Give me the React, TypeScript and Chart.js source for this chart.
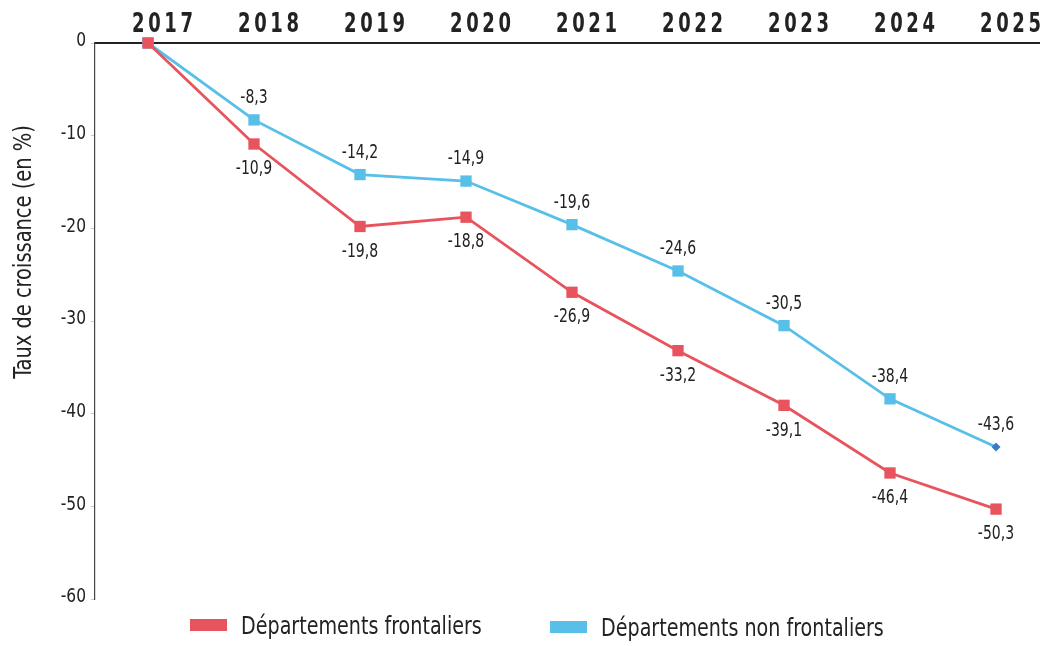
import React, { useEffect, useRef } from "react";
import { Chart, registerables } from "chart.js";

Chart.register(...registerables);

const years = [2017, 2018, 2019, 2020, 2021, 2022, 2023, 2024, 2025];
const frontaliers = [0, -10.9, -19.8, -18.8, -26.9, -33.2, -39.1, -46.4, -50.3];
const nonFrontaliers = [0, -8.3, -14.2, -14.9, -19.6, -24.6, -30.5, -38.4, -43.6];
const seriesLabels = ["Départements frontaliers", "Départements non frontaliers"];
const yTitle = "Taux de croissance (en %)";
const yTicks = [0, -10, -20, -30, -40, -50, -60];
const yMin = -60;
const yMax = 0;
const yStep = 10;

const FONT = "'DejaVu Sans Condensed', 'DejaVu Sans', sans-serif";
const RED = "#e8545d";
const BLUE = "#58c0e8";
const DIAMOND = "#3f78c4";
const TEXT = "#222222";

const fmt = (v: number) => v.toFixed(1).replace(".", ",");

// draws horizontally-condensed text
function drawText(
  ctx: CanvasRenderingContext2D,
  text: string,
  x: number,
  y: number,
  align: "left" | "center" | "right",
  sx: number,
  spacing = 0
) {
  const chars = text.split("");
  const widths = chars.map((c) => ctx.measureText(c).width);
  const total =
    spacing === 0
      ? ctx.measureText(text).width
      : widths.reduce((a, b) => a + b, 0) + spacing * (chars.length - 1);
  let start = 0;
  if (align === "center") start = -total / 2;
  else if (align === "right") start = -total;
  ctx.save();
  ctx.translate(x, y);
  ctx.scale(sx, 1);
  ctx.textAlign = "left";
  if (spacing === 0) {
    ctx.fillText(text, start, 0);
  } else {
    let cx = start;
    chars.forEach((c, i) => {
      ctx.fillText(c, cx, 0);
      cx += widths[i] + spacing;
    });
  }
  ctx.restore();
}

const customDraw = {
  id: "customDraw",
  afterDraw(chart: any) {
    const ctx = chart.ctx as CanvasRenderingContext2D;
    const xs = chart.scales.x;
    const ys = chart.scales.y;
    ctx.save();
    ctx.fillStyle = TEXT;

    // top year labels
    ctx.font = `bold 27px ${FONT}`;
    ctx.textBaseline = "alphabetic";
    years.forEach((yr) => {
      drawText(ctx, String(yr), xs.getPixelForValue(yr) + 14.5, 32, "center", 0.74, 5);
    });

    // y tick labels
    ctx.font = `20px ${FONT}`;
    ctx.textBaseline = "middle";
    yTicks.forEach((v) => {
      drawText(ctx, String(v), 86, ys.getPixelForValue(v) - 2, "right", 0.86);
    });

    // data labels
    ctx.font = `20px ${FONT}`;
    ctx.textBaseline = "middle";
    chart.data.datasets.forEach((ds: any, di: number) => {
      const meta = chart.getDatasetMeta(di);
      ds.data.forEach((d: any, i: number) => {
        if (i === 0) return;
        const el = meta.data[i];
        const dy = di === 0 ? 25 : -22;
        drawText(ctx, fmt(d.y), el.x, el.y + dy, "center", 0.78);
      });
    });

    // y title
    ctx.save();
    ctx.translate(25, 252);
    ctx.rotate(-Math.PI / 2);
    ctx.font = `24px ${FONT}`;
    ctx.textBaseline = "middle";
    drawText(ctx, yTitle, 0, 0, "center", 0.9);
    ctx.restore();

    // legend
    const legendItems = [
      { x: 190, y: 619, color: RED },
      { x: 550, y: 621, color: BLUE },
    ];
    ctx.font = `25px ${FONT}`;
    ctx.textBaseline = "middle";
    chart.data.datasets.forEach((ds: any, di: number) => {
      const it = legendItems[di];
      ctx.fillStyle = it.color;
      ctx.fillRect(it.x, it.y, 37, 12);
      ctx.fillStyle = TEXT;
      drawText(ctx, ds.label, it.x + 51, it.y + 8, "left", 0.85);
    });
    ctx.restore();
  },
};

export default function App() {
  const ref = useRef<HTMLCanvasElement>(null);
  useEffect(() => {
    if (!ref.current) return;
    const n = years.length;
    const chart = new Chart(ref.current, {
      type: "line",
      data: {
        datasets: [
          {
            label: seriesLabels[0],
            data: years.map((x, i) => ({ x, y: frontaliers[i] })),
            borderColor: RED,
            backgroundColor: RED,
            borderWidth: 2.8,
            pointStyle: "rect",
            pointRadius: 8,
            pointBackgroundColor: RED,
            pointBorderWidth: 0,
            tension: 0,
            clip: false,
          },
          {
            label: seriesLabels[1],
            data: years.map((x, i) => ({ x, y: nonFrontaliers[i] })),
            borderColor: BLUE,
            backgroundColor: BLUE,
            borderWidth: 2.8,
            pointStyle: years.map((_, i) => (i === n - 1 ? "rectRot" : "rect")),
            pointRadius: years.map((_, i) => (i === n - 1 ? 4.5 : 8)),
            pointBackgroundColor: years.map((_, i) => (i === n - 1 ? DIAMOND : BLUE)),
            pointBorderWidth: 0,
            tension: 0,
            clip: false,
          },
        ],
      },
      options: {
        responsive: false,
        animation: false,
        layout: { autoPadding: false, padding: { left: 0, right: 0, top: 0, bottom: 47 } },
        plugins: { legend: { display: false }, tooltip: { enabled: false } },
        scales: {
          x: {
            type: "linear",
            position: "top",
            min: years[0] - 0.5,
            max: years[n - 1] + 0.415,
            grid: { display: false },
            border: { display: true, color: "#222", width: 2 },
            ticks: { display: false },
            afterFit: (s: any) => {
              s.height = 43;
            },
          },
          y: {
            min: yMin,
            max: yMax,
            grid: {
              display: true,
              drawOnChartArea: false,
              drawTicks: true,
              tickLength: 4,
              color: "#c8c8c8",
            },
            border: { display: true, color: "#444", width: 1.2 },
            ticks: { display: false, stepSize: yStep },
            afterFit: (s: any) => {
              s.width = 95;
            },
          },
        },
      },
      plugins: [customDraw],
    } as any);
    return () => chart.destroy();
  }, []);
  return (
    <div style={{ position: "fixed", left: 0, top: 0, width: 1040, height: 646, background: "#fff" }}>
      <canvas ref={ref} width={1040} height={646} style={{ width: 1040, height: 646 }} />
    </div>
  );
}
